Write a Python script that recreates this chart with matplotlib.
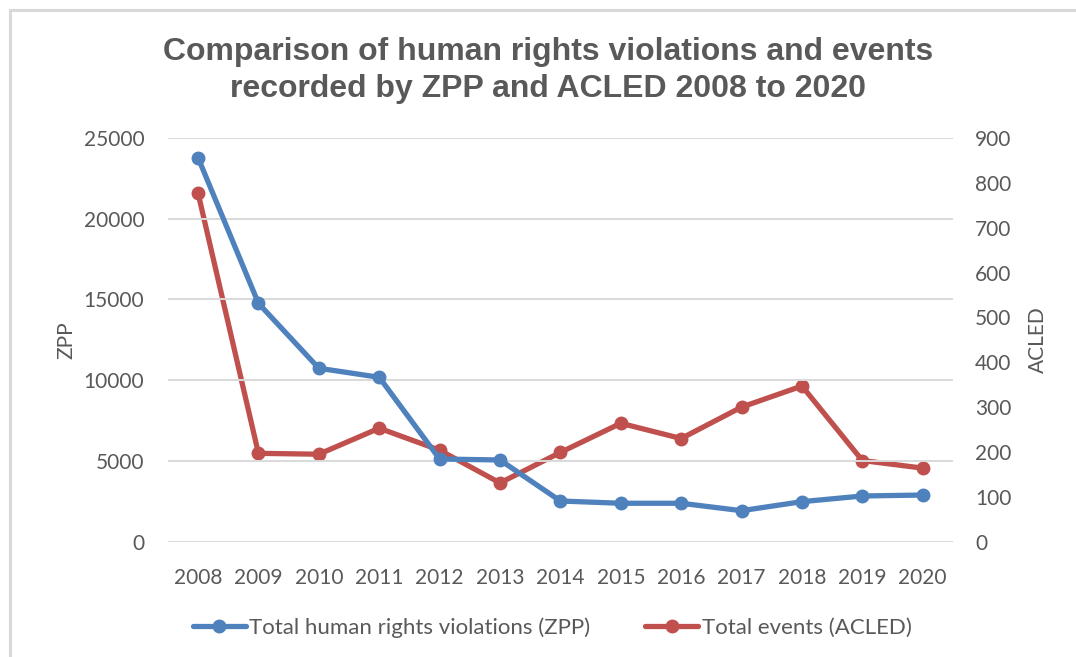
import matplotlib.pyplot as plt
from matplotlib.lines import Line2D

# values
years = ['2008', '2009', '2010', '2011', '2012', '2013', '2014',
         '2015', '2016', '2017', '2018', '2019', '2020']
zpp = [23780, 14760, 10740, 10180, 5120, 5060, 2520,
       2380, 2380, 1920, 2480, 2830, 2890]
acled = [777, 197, 195, 253, 204, 131, 199,
         264, 230, 300, 347, 181, 164]

left_ticks = [0, 5000, 10000, 15000, 20000, 25000]
right_ticks = [0, 100, 200, 300, 400, 500, 600, 700, 800, 900]

blue = '#4F81BD'
red = '#C0504D'
grey = '#595959'
tick_font = 'Lato'

fig = plt.figure(figsize=(10.76, 6.57), dpi=100)
# chart border (only top and left edges are inside the image)
bx = 10 / 1076
by = 1 - 10 / 657
fig.lines.append(Line2D([bx, 1.0], [by, by], transform=fig.transFigure,
                        color='#D9D9D9', linewidth=2.2))
fig.lines.append(Line2D([bx, bx], [0.0, by], transform=fig.transFigure,
                        color='#D9D9D9', linewidth=2.2))

ax = fig.add_axes([0.156, 0.1755, 0.7296, 0.6145])
ax2 = ax.twinx()

x = list(range(len(years)))
l1, = ax.plot(x, zpp, color=blue, linewidth=3.8, marker='o', markersize=9,
              solid_capstyle='round', label='Total human rights violations (ZPP)')
l2, = ax2.plot(x, acled, color=red, linewidth=3.8, marker='o', markersize=9,
               solid_capstyle='round', label='Total events (ACLED)')
ax.set_zorder(ax2.get_zorder() + 1)
ax.patch.set_visible(False)

ax.set_xlim(-0.5, len(years) - 0.5)
ax.set_ylim(0, 25000)
ax2.set_ylim(0, 900)
ax.set_yticks(left_ticks)
ax2.set_yticks(right_ticks)
ax.set_xticks(x)
ax.set_xticklabels(years)

ax.grid(axis='y', color='#D9D9D9', linewidth=1.4)
ax.set_axisbelow(True)
for a in (ax, ax2):
    for s in a.spines.values():
        s.set_visible(False)
    a.tick_params(length=0, colors=grey, labelsize=15)
    for lab in a.get_xticklabels() + a.get_yticklabels():
        lab.set_family(tick_font)
ax.tick_params(axis='y', pad=17)
ax.tick_params(axis='x', pad=19)
ax2.tick_params(axis='y', pad=16)

ax.set_ylabel('ZPP', color=grey, fontsize=15, family=tick_font, labelpad=5)
ax2.set_ylabel('ACLED', color=grey, fontsize=15, family=tick_font,
               rotation=90, labelpad=12)

fig.text(0.509, 0.893, 'Comparison of human rights violations and events\n'
         'recorded by ZPP and ACLED 2008 to 2020',
         ha='center', va='center', fontsize=23, fontweight='bold',
         family='Liberation Sans', color=grey, linespacing=1.3)

leg = fig.legend([l1, l2], [l1.get_label(), l2.get_label()],
                 loc='center', bbox_to_anchor=(0.513, 0.045), ncol=2,
                 frameon=False, handlelength=2.4, handletextpad=0.15,
                 columnspacing=2.45, prop={'family': tick_font, 'size': 16})
for t in leg.get_texts():
    t.set_color(grey)

fig.savefig('out.png', dpi=100)
